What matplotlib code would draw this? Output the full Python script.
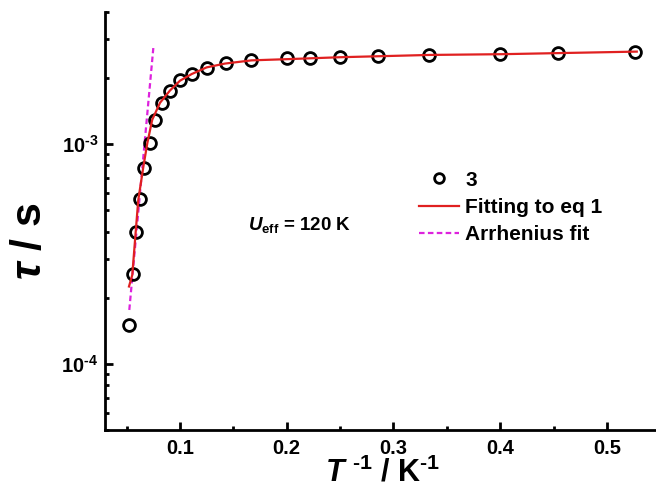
import numpy as np
import matplotlib
matplotlib.use("Agg")
import matplotlib.pyplot as plt
from matplotlib.ticker import FixedLocator, LogLocator, NullFormatter, FuncFormatter
from matplotlib.lines import Line2D

plt.rcParams['font.family'] = ['Liberation Sans', 'DejaVu Sans']
plt.rcParams['font.weight'] = 'bold'
plt.rcParams['mathtext.fontset'] = 'custom'
plt.rcParams['mathtext.rm'] = 'Liberation Sans:bold'
plt.rcParams['mathtext.bf'] = 'Liberation Sans:bold'
plt.rcParams['mathtext.it'] = 'Liberation Sans:italic:bold'

# temperatures (K) -> data plotted against 1/T
temps = [19, 18, 17, 16, 15, 14, 13, 12, 11, 10, 9, 8, 7, 6, 5,
         4.5, 4, 3.5, 3, 2.5, 2.2, 1.9]
tau = [1.50e-4, 2.57e-4, 3.98e-4, 5.62e-4, 7.78e-4, 1.01e-3, 1.29e-3,
       1.54e-3, 1.75e-3, 1.95e-3, 2.08e-3, 2.22e-3, 2.33e-3, 2.41e-3,
       2.45e-3, 2.45e-3, 2.49e-3, 2.51e-3, 2.55e-3, 2.56e-3, 2.60e-3, 2.63e-3]

# fit to eq 1
fit_x = [0.0522, 0.0553, 0.0585, 0.0609, 0.0656, 0.0694, 0.0740, 0.0813,
         0.0906, 0.100, 0.111, 0.125, 0.142, 0.167, 0.200, 0.250, 0.334,
         0.4015, 0.456, 0.528]
fit_tau = [2.25e-4, 2.54e-4, 3.99e-4, 5.56e-4, 7.84e-4, 1.01e-3, 1.29e-3,
           1.54e-3, 1.75e-3, 1.94e-3, 2.08e-3, 2.23e-3, 2.32e-3, 2.40e-3,
           2.43e-3, 2.48e-3, 2.54e-3, 2.56e-3, 2.59e-3, 2.63e-3]

# Arrhenius fit (straight line on log scale)
arr_x = [0.0525, 0.0750]
arr_tau = [1.76e-4, 2.73e-3]

inv_t = 1.0 / np.array(temps)

fig = plt.figure(figsize=(6.56, 4.96), dpi=100)
ax = fig.add_axes([0.1605, 0.1327, 0.846, 0.844])

ax.plot(inv_t, tau, 'o', mfc='none', mec='black', ms=8.5, mew=2.0,
        linestyle='none', zorder=3)
ax.plot(fit_x, fit_tau, color='#e02020', lw=1.6, zorder=4)
ax.plot(arr_x, arr_tau, color='#dd22dd', lw=1.6, ls=(0, (2.5, 1.5)), zorder=2)

ax.set_yscale('log')
ax.set_xlim(0.03, 0.55)
ax.set_ylim(5e-5, 4e-3)

ax.xaxis.set_major_locator(FixedLocator([0.1, 0.2, 0.3, 0.4, 0.5]))
ax.xaxis.set_minor_locator(FixedLocator([0.05, 0.15, 0.25, 0.35, 0.45]))
ax.xaxis.set_major_formatter(FuncFormatter(lambda v, p: f"{v:.1f}"))
ax.yaxis.set_major_locator(LogLocator(base=10))
ax.yaxis.set_minor_locator(LogLocator(base=10, subs=np.arange(2, 10)))
ax.yaxis.set_minor_formatter(NullFormatter())
ax.yaxis.set_major_formatter(FuncFormatter(
    lambda v, p: r"$10^{\text{-}%d}$" % abs(round(np.log10(v)))))

for side in ['top', 'right']:
    ax.spines[side].set_visible(False)
for side in ['left', 'bottom']:
    ax.spines[side].set_linewidth(2.0)

ax.tick_params(which='major', direction='in', length=6, width=2, labelsize=14.5, pad=6)
ax.tick_params(which='minor', direction='in', length=3, width=2)
ax.tick_params(axis='y', which='major', pad=5)

ax.set_xlabel(r"$\mathit{T}^{\ \text{-}1}$ / K$^{\text{-}1}$", fontsize=22,
              fontweight='bold', labelpad=0)
ax.set_ylabel(r"$\mathit{\tau}$ / s", fontsize=31, fontweight='bold')
ax.yaxis.set_label_coords(-0.10, 0.452)

ax.text(0.257, 0.478, r"$\mathit{U}_{\mathrm{eff}}$ = 120 K", transform=ax.transAxes,
        fontsize=13.5, ha='left', va='baseline')

handles = [Line2D([], [], marker='o', mfc='none', mec='black', ms=7, mew=2.0, ls='none'),
           Line2D([], [], color='#e02020', lw=1.6),
           Line2D([], [], color='#dd22dd', lw=1.6, ls=(0, (2.5, 1.5)))]
labels = ['3', 'Fitting to eq 1', 'Arrhenius fit']
ax.legend(handles, labels, loc='upper left', bbox_to_anchor=(0.551, 0.64),
          frameon=False, fontsize=15, handlelength=1.9, handletextpad=0.3,
          labelspacing=0.4, borderaxespad=0)

fig.savefig('out.png', dpi=100)
